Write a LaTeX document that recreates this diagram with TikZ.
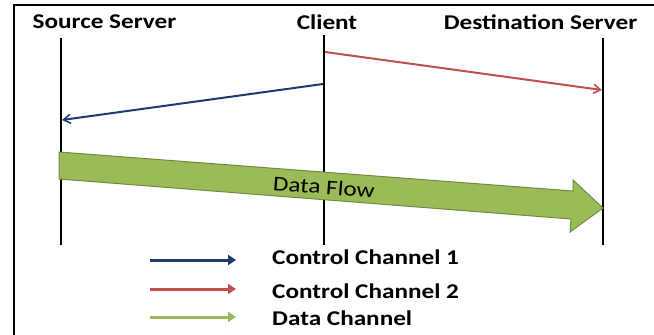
\documentclass[tikz,border=0pt]{standalone}
\usepackage{fontspec}
\setmainfont{Carlito}
\newfontfamily\wide[FakeStretch=1.2]{Carlito}
\usetikzlibrary{arrows.meta}
\definecolor{navy}{HTML}{1F3A6E}
\definecolor{redc}{HTML}{C0504D}
\definecolor{greenc}{HTML}{9BBB59}
\definecolor{greend}{HTML}{71893F}
\tikzset{
  head/.style={font=\wide\bfseries\fontsize{21}{24}\selectfont, inner sep=0pt},
  life/.style={line width=2.8pt, black},
  msg/.style={line width=2pt, -{Straight Barb[length=7pt,width=9pt,line width=1.6pt]}},
  leg/.style={line width=3pt, -{Triangle[length=8pt,width=10pt]}},
  legtxt/.style={font=\wide\bfseries\fontsize{21}{24}\selectfont, anchor=west, inner sep=0pt},
}
\begin{document}
\begin{tikzpicture}[x=1pt,y=-1pt]
\useasboundingbox (0,0) rectangle (654,335);
% frame
\draw[line width=2.5pt] (14,336) -- (14,5) -- (655,5);
% headers
\node[head] (src) at (104.5,22) {Source Server};
\node[head] (cli) at (327,22) {Client};
\node[head] (dst) at (540.5,22) {Destination Server};
% lifelines
\coordinate (s1) at (61,38); \coordinate (s2) at (61,245);
\coordinate (c1) at (324,35); \coordinate (c2) at (324,245);
\coordinate (d1) at (603,38); \coordinate (d2) at (603,245);
\draw[life] (s1) -- (s2);
\draw[life] (c1) -- (c2);
\draw[life] (d1) -- (d2);
% messages
\coordinate (b1) at (323,84); \coordinate (b2) at (62,120);
\draw[msg, navy] (b1) -- (b2);
\coordinate (r1) at (325,52); \coordinate (r2) at (602,90);
\draw[msg, redc] (r1) -- (r2);
% data flow arrow
\draw[fill=greenc, draw=greend, line width=1pt]
  (59,152) -- (573,191) -- (573,180) -- (603,208) -- (570,232) -- (571,219) -- (59,179) -- cycle;
\node[font=\wide\fontsize{21}{24}\selectfont, rotate=-4.5] (df) at (324,187) {Data Flow};
% legend
\coordinate (l1a) at (150,260); \coordinate (l1b) at (236,260);
\coordinate (l2a) at (150,289); \coordinate (l2b) at (236,289);
\coordinate (l3a) at (150,317); \coordinate (l3b) at (236,317);
\draw[leg, navy] (l1a) -- (l1b);
\draw[leg, redc] (l2a) -- (l2b);
\draw[leg, greenc] (l3a) -- (l3b);
\node[legtxt] (t1) at (272,257) {Control Channel 1};
\node[legtxt] (t2) at (272,291) {Control Channel 2};
\node[legtxt] (t3) at (272,318) {Data Channel};
\end{tikzpicture}
\end{document}
